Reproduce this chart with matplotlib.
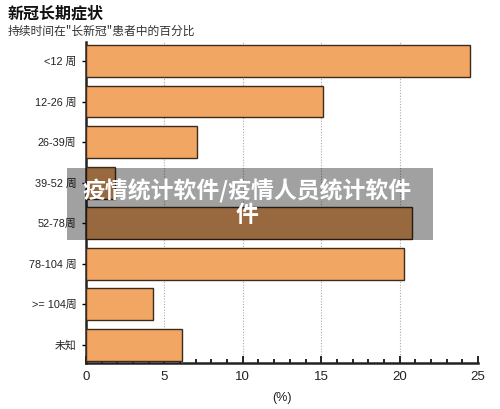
import matplotlib
matplotlib.use('Agg')
import numpy as np
import matplotlib.pyplot as plt
from matplotlib.patches import Rectangle
from matplotlib.ticker import MultipleLocator

plt.rcParams['font.family'] = ['Liberation Sans', 'Noto Sans CJK SC', 'DejaVu Sans']

categories = ['<12 周', '12-26 周', '26-39周', '39-52 周', '52-78周', '78-104 周', '>= 104周', '未知']
values = [24.5, 15.1, 7.05, 1.85, 20.8, 20.25, 4.3, 6.15]
x_ticks = [0, 5, 10, 15, 20, 25]

title = '新冠长期症状'
subtitle = '持续时间在"长新冠"患者中的百分比'
watermark = '疫情统计软件/疫情人员统计软件\n件'

fig = plt.figure(figsize=(5, 4.09), dpi=100)
ax = fig.add_axes([0.172, 0.1125, 0.784, 0.7845])

ypos = np.arange(len(categories))
ax.barh(ypos, values, height=0.78, color='#F2A664', edgecolor='#3d2b1c',
        linewidth=1.0, zorder=3)

ax.set_ylim(7.45, -0.47)
ax.set_xlim(0, 25)
ax.set_yticks(ypos)
ax.set_yticklabels(categories, fontsize=7.8, color='#222222')
ax.set_xticks(x_ticks)
ax.set_xticklabels([str(t) for t in x_ticks], fontsize=9.5, color='#222222')
ax.xaxis.set_minor_locator(MultipleLocator(1))
ax.tick_params(axis='x', which='major', direction='in', length=5, width=1.2, pad=6)
ax.tick_params(axis='x', which='minor', direction='in', length=3, width=1.2)
ax.tick_params(axis='y', direction='out', length=3, width=1, pad=4)

for s in ['top', 'right']:
    ax.spines[s].set_visible(False)
for s in ['left', 'bottom']:
    ax.spines[s].set_linewidth(1.8)
    ax.spines[s].set_color('#222222')

ax.grid(axis='x', linestyle=(0, (1, 1.5)), color='#aaaaaa', linewidth=0.8, zorder=0)
ax.set_xlabel('(%)', fontsize=9, color='#222222', labelpad=6)

fig.text(0.016, 0.966, title, fontsize=11.5, fontweight='bold', color='#111111',
         family=['Noto Sans CJK SC'], va='center')
fig.text(0.016, 0.923, subtitle, fontsize=8.5, color='#333333',
         family=['Noto Sans CJK SC', 'DejaVu Sans'], va='center')

# watermark overlay
fig.patches.append(Rectangle((67 / 500, 1 - 240 / 409), 366 / 500, 72 / 409,
                             transform=fig.transFigure, facecolor='black',
                             alpha=0.37, edgecolor='none', zorder=10))
fig.text(0.494, 1 - 203 / 409, watermark, fontsize=16.5, fontweight='bold',
         color='white', ha='center', va='center', linespacing=1.05,
         family=['Noto Sans CJK SC'], zorder=11)

fig.savefig('out.png', dpi=100)
